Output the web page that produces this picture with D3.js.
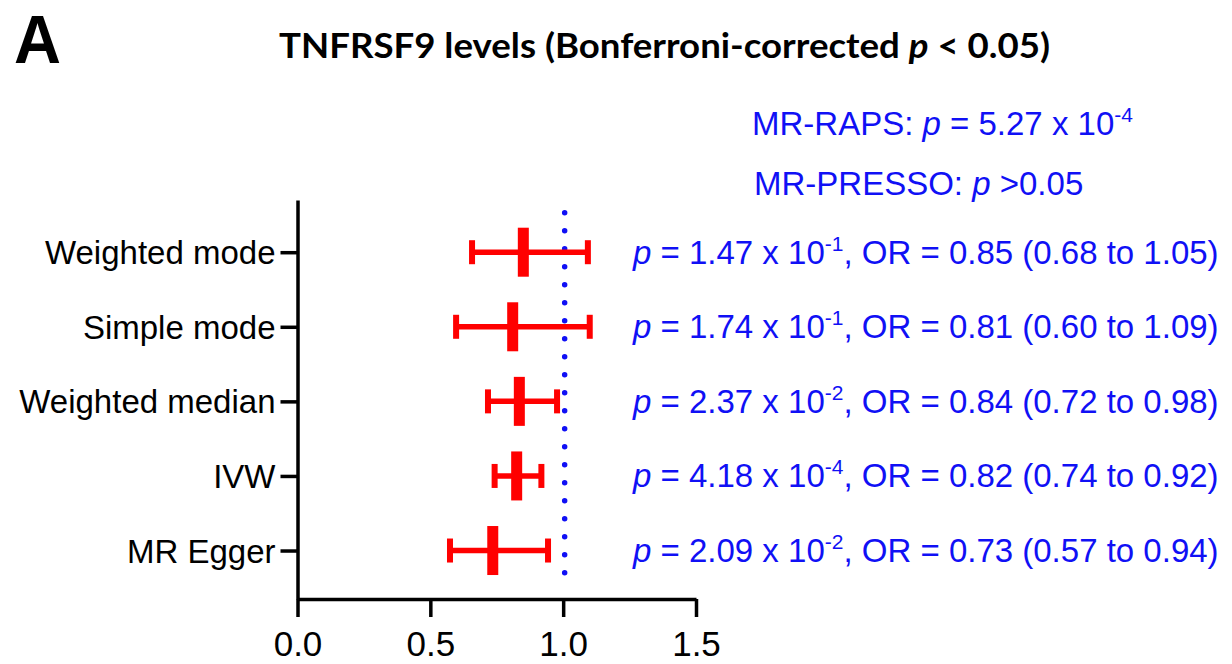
<!DOCTYPE html>
<html>
<head>
<meta charset="utf-8">
<script src="https://cdn.jsdelivr.net/npm/d3@7"></script>
<style>
  html, body { margin: 0; padding: 0; background: #fff; }
  svg { display: block; }
</style>
</head>
<body>
<svg id="chart" width="1232" height="664"></svg>
<script>
// ---- data ----
const categories = ["Weighted mode", "Simple mode", "Weighted median", "IVW", "MR Egger"];
const estimates  = [0.85, 0.81, 0.835, 0.825, 0.735];
const lowerCI    = [0.657, 0.597, 0.717, 0.742, 0.574];
const upperCI    = [1.093, 1.10, 0.977, 0.918, 0.943];
const pMantissa  = ["1.47", "1.74", "2.37", "4.18", "2.09"];
const pExponent  = ["-1", "-1", "-2", "-4", "-2"];
const orText     = ["0.85 (0.68 to 1.05)", "0.81 (0.60 to 1.09)", "0.84 (0.72 to 0.98)",
                    "0.82 (0.74 to 0.92)", "0.73 (0.57 to 0.94)"];
const xTicks     = [0, 0.5, 1.0, 1.5];
const refLine    = 1.0;

const BLUE = "#1010f5", RED = "#ff0000";
const svg = d3.select("#chart");

const x = d3.scaleLinear().domain([0, 1.5]).range([297.5, 696]);
const y = d3.scaleLinear().domain([-0.7, 4.65]).range([200, 599]);

// panel letter and title
svg.append("text").attr("x", 14).attr("y", 63)
  .attr("font-family", "'Liberation Sans', Arial, sans-serif").attr("font-weight", 700)
  .attr("font-size", 68).attr("textLength", 47).attr("lengthAdjust", "spacingAndGlyphs")
  .text("A");

const title = svg.append("text").attr("x", 279).attr("y", 58)
  .attr("font-family", "Lato, 'Open Sans', sans-serif").attr("font-weight", 700)
  .attr("font-size", 35)
  .attr("textLength", 771).attr("lengthAdjust", "spacingAndGlyphs");
title.append("tspan").text("TNFRSF9 levels (Bonferroni-corrected ");
title.append("tspan").attr("font-style", "italic").text("p");
title.append("tspan").text(" < 0.05)");

// axes
const yAxis = d3.axisLeft(y).tickValues(d3.range(categories.length))
  .tickFormat(i => categories[i]).tickSize(17).tickSizeOuter(0).tickPadding(5);
const gy = svg.append("g").attr("transform", `translate(${x(0)},0)`).call(yAxis);
gy.select(".domain").attr("stroke", "#000").attr("stroke-width", 3.5);
gy.selectAll(".tick line").attr("stroke", "#000").attr("stroke-width", 3.5);
gy.selectAll(".tick text").attr("font-family", "Arial, 'Liberation Sans', sans-serif")
  .attr("font-size", 33).attr("fill", "#000").attr("dy", "0.35em");

const xAxis = d3.axisBottom(x).tickValues(xTicks).tickFormat(d3.format(".1f"))
  .tickSize(18).tickSizeOuter(0).tickPadding(0);
const gx = svg.append("g").attr("transform", `translate(0,${y(4.65)})`).call(xAxis);
gx.select(".domain").attr("stroke", "#000").attr("stroke-width", 3.5);
gx.selectAll(".tick line").attr("stroke", "#000").attr("stroke-width", 3.5);
gx.selectAll(".tick text").attr("font-family", "Arial, 'Liberation Sans', sans-serif")
  .attr("font-size", 35).attr("fill", "#000").attr("dy", null).attr("y", 57);

// reference dotted line
svg.append("line")
  .attr("x1", x(refLine) + 1.5).attr("x2", x(refLine) + 1.5)
  .attr("y1", y(-0.53)).attr("y2", y(4.5))
  .attr("stroke", BLUE).attr("stroke-width", 5.5)
  .attr("stroke-linecap", "round").attr("stroke-dasharray", "0,18");

// error bars
const rows = svg.append("g").selectAll("g").data(categories).join("g");
rows.append("line")
  .attr("x1", (d, i) => x(lowerCI[i])).attr("x2", (d, i) => x(upperCI[i]))
  .attr("y1", (d, i) => y(i)).attr("y2", (d, i) => y(i))
  .attr("stroke", RED).attr("stroke-width", 5.5);
rows.selectAll("rect.cap").data((d, i) => [lowerCI[i], upperCI[i]].map(v => ({v, i})))
  .join("rect").attr("class", "cap")
  .attr("x", d => x(d.v) - 3).attr("width", 6)
  .attr("y", d => y(d.i) - 12).attr("height", 24).attr("fill", RED);
rows.append("rect")
  .attr("x", (d, i) => x(estimates[i]) - 5.5).attr("width", 11)
  .attr("y", (d, i) => y(i) - 24.5).attr("height", 49).attr("fill", RED);

// right side annotations
const FONT = "Arial, 'Liberation Sans', sans-serif";
function richP(t, mant, exp) {
  t.append("tspan").attr("font-style", "italic").text("p");
  t.append("tspan").text(` = ${mant} x 10`);
  t.append("tspan").attr("font-size", 21).attr("dy", -13).text(exp);
}
const ann = svg.append("g").selectAll("text").data(categories).join("text")
  .attr("x", 633).attr("y", (d, i) => y(i) + 11.5)
  .attr("font-family", FONT).attr("font-size", 33).attr("fill", BLUE);
ann.each(function(d, i) {
  const t = d3.select(this);
  richP(t, pMantissa[i], pExponent[i]);
  t.append("tspan").attr("dy", 13).text(`, OR = ${orText[i]}`);
});

const raps = svg.append("text").attr("x", 752).attr("y", 135)
  .attr("font-family", FONT).attr("font-size", 33).attr("fill", BLUE);
raps.append("tspan").text("MR-RAPS: ");
richP(raps, "5.27", "-4");

const presso = svg.append("text").attr("x", 754).attr("y", 195)
  .attr("font-family", FONT).attr("font-size", 33).attr("fill", BLUE);
presso.append("tspan").text("MR-PRESSO: ");
presso.append("tspan").attr("font-style", "italic").text("p");
presso.append("tspan").text(" >0.05");
</script>
</body>
</html>
